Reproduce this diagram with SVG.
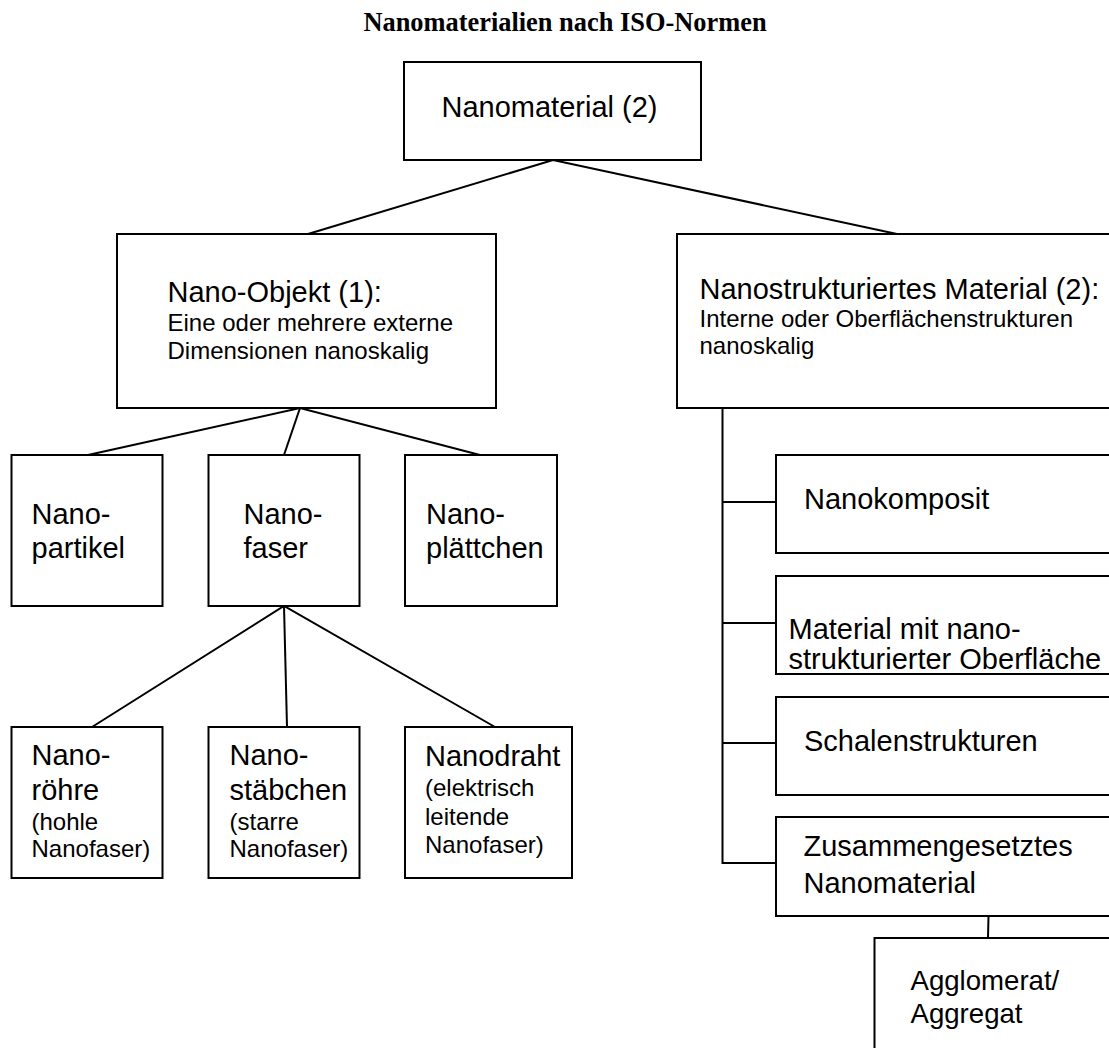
<svg xmlns="http://www.w3.org/2000/svg" width="1109" height="1048" viewBox="0 0 1109 1048">
  <style>
    .box { fill: #fff; stroke: #000; stroke-width: 2; }
    .link { fill: none; stroke: #000; stroke-width: 2; }
    .t { font-family: "Liberation Sans", Arial, sans-serif; fill: #000; }
    .big { font-size: 29px; }
    .small { font-size: 24px; }
    .title { font-family: "Liberation Serif", "Times New Roman", serif; font-weight: bold; font-size: 26.4px; fill: #000; }
  </style>
  <rect x="0" y="0" width="1109" height="1048" fill="#fff"/>

  <text class="title" x="565" y="31" text-anchor="middle">Nanomaterialien nach ISO-Normen</text>

  <!-- connectors -->
  <g id="connectors">
    <polyline class="link" points="308,234 553,160 897,234"/>
    <polyline class="link" points="88,455 300,408 480,455"/>
    <line class="link" x1="300" y1="408" x2="284" y2="455"/>
    <polyline class="link" points="92,727 284,606 495,727"/>
    <line class="link" x1="284" y1="606" x2="287" y2="727"/>
    <polyline class="link" points="722.5,408 722.5,863 776,863"/>
    <line class="link" x1="722.5" y1="502" x2="776" y2="502"/>
    <line class="link" x1="722.5" y1="623" x2="776" y2="623"/>
    <line class="link" x1="722.5" y1="743" x2="776" y2="743"/>
    <line class="link" x1="988.5" y1="916" x2="988" y2="938"/>
  </g>

  <g id="nanomaterial">
    <rect class="box" x="404" y="62" width="297" height="98"/>
    <text class="t big" x="441.5" y="117">Nanomaterial (2)</text>
  </g>

  <g id="nano-objekt">
    <rect class="box" x="117" y="234" width="379" height="174"/>
    <text class="t big" x="167.5" y="302">Nano-Objekt (1):</text>
    <text class="t small" x="167.5" y="331">Eine oder mehrere externe</text>
    <text class="t small" x="167.5" y="359">Dimensionen nanoskalig</text>
  </g>

  <g id="nanostrukturiert">
    <rect class="box" x="677" y="234" width="450" height="174"/>
    <text class="t big" x="699.5" y="299">Nanostrukturiertes Material (2):</text>
    <text class="t small" x="699.5" y="327">Interne oder Oberflächenstrukturen</text>
    <text class="t small" x="699.5" y="354">nanoskalig</text>
  </g>

  <g id="nanopartikel">
    <rect class="box" x="11.5" y="455" width="151" height="151"/>
    <text class="t big" x="31.5" y="524">Nano-</text>
    <text class="t big" x="31.5" y="558">partikel</text>
  </g>

  <g id="nanofaser">
    <rect class="box" x="208.5" y="455" width="151" height="151"/>
    <text class="t big" x="243.5" y="524">Nano-</text>
    <text class="t big" x="243.5" y="558">faser</text>
  </g>

  <g id="nanoplaettchen">
    <rect class="box" x="405" y="455" width="152" height="151"/>
    <text class="t big" x="426" y="524">Nano-</text>
    <text class="t big" x="426" y="558">plättchen</text>
  </g>

  <g id="nanoroehre">
    <rect class="box" x="11.5" y="727" width="151" height="151"/>
    <text class="t big" x="31.5" y="765">Nano-</text>
    <text class="t big" x="31.5" y="800">röhre</text>
    <text class="t small" x="31.5" y="830">(hohle</text>
    <text class="t small" x="31.5" y="857">Nanofaser)</text>
  </g>

  <g id="nanostaebchen">
    <rect class="box" x="208.5" y="727" width="151" height="151"/>
    <text class="t big" x="229.5" y="765">Nano-</text>
    <text class="t big" x="229.5" y="800">stäbchen</text>
    <text class="t small" x="229.5" y="830">(starre</text>
    <text class="t small" x="229.5" y="857">Nanofaser)</text>
  </g>

  <g id="nanodraht">
    <rect class="box" x="405" y="727" width="167" height="151"/>
    <text class="t big" x="425" y="765.5">Nanodraht</text>
    <text class="t small" x="425" y="796">(elektrisch</text>
    <text class="t small" x="425" y="824.5">leitende</text>
    <text class="t small" x="425" y="852.5">Nanofaser)</text>
  </g>

  <g id="nanokomposit">
    <rect class="box" x="776" y="455" width="350" height="98"/>
    <text class="t big" x="804" y="509">Nanokomposit</text>
  </g>

  <g id="oberflaeche">
    <rect class="box" x="776" y="576" width="350" height="98"/>
    <text class="t big" x="788.5" y="639">Material mit nano-</text>
    <text class="t big" x="788.5" y="669">strukturierter Oberfläche</text>
  </g>

  <g id="schalen">
    <rect class="box" x="776" y="697" width="350" height="98"/>
    <text class="t big" x="804" y="751">Schalenstrukturen</text>
  </g>

  <g id="zusammengesetzt">
    <rect class="box" x="776" y="817" width="350" height="99"/>
    <text class="t big" x="803.5" y="856">Zusammengesetztes</text>
    <text class="t big" x="803.5" y="892.5">Nanomaterial</text>
  </g>

  <g id="agglomerat">
    <rect class="box" x="874.5" y="938" width="250" height="130"/>
    <text class="t" font-size="27.6" x="910.5" y="990">Agglomerat/</text>
    <text class="t" font-size="27.6" x="910.5" y="1023">Aggregat</text>
  </g>
</svg>
